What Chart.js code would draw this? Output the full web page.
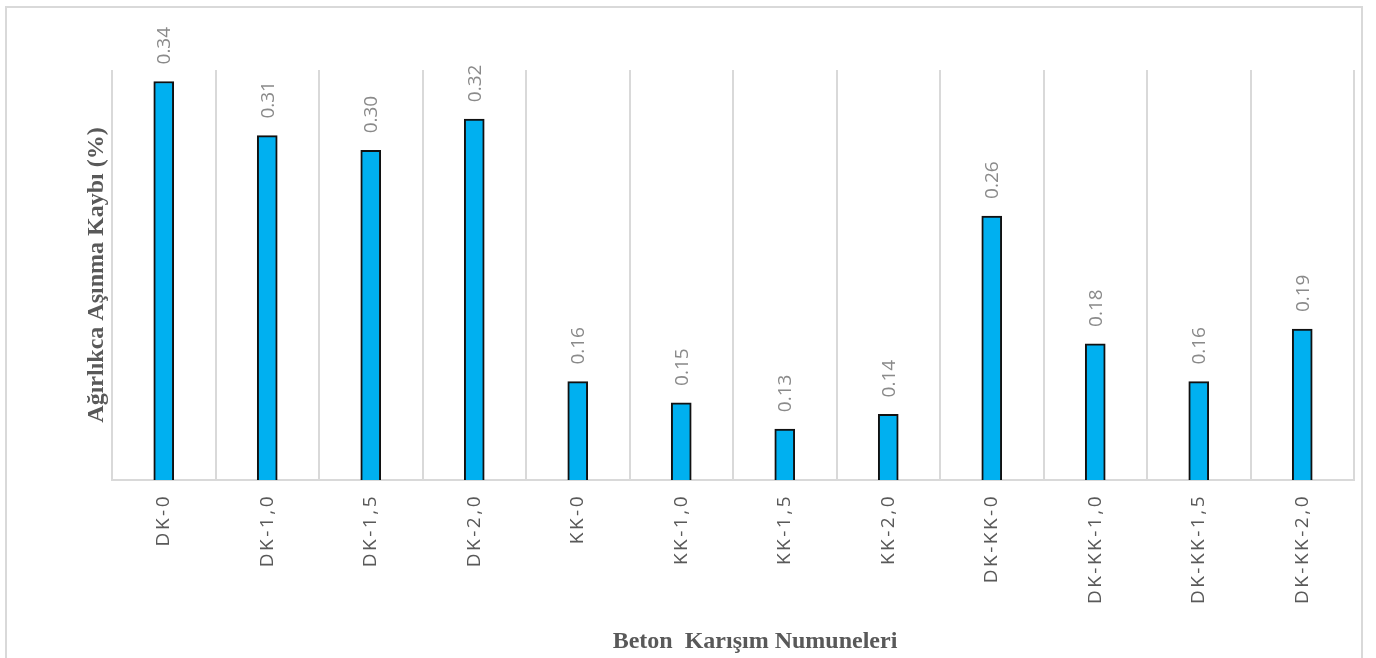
<!DOCTYPE html>
<html lang="tr">
<head>
<meta charset="utf-8">
<title>Ağırlıkca Aşınma Kaybı</title>
<script src="https://cdn.jsdelivr.net/npm/chart.js@4/dist/chart.umd.min.js"></script>
<style>
  html, body { margin: 0; padding: 0; background: #ffffff; overflow: hidden; }
  #frame {
    position: absolute; left: 5px; top: 6px; width: 1358px; height: 720px;
    border: 2px solid #d9d9d9; box-sizing: border-box;
  }
  #wrap { position: absolute; left: 0; top: 0; width: 1376px; height: 658px; }
</style>
</head>
<body>
<div id="frame"></div>
<div id="wrap"><canvas id="chart" width="1376" height="658"></canvas></div>
<script>
// Beton karışım numuneleri (categories)
const categories = [
  'DK-0', 'DK-1,0', 'DK-1,5', 'DK-2,0',
  'KK-0', 'KK-1,0', 'KK-1,5', 'KK-2,0',
  'DK-KK-0', 'DK-KK-1,0', 'DK-KK-1,5', 'DK-KK-2,0'
];
// Ağırlıkca aşınma kaybı (%)
const wearLoss = [
  0.343, 0.310, 0.301, 0.320,
  0.160, 0.147, 0.131, 0.140,
  0.261, 0.183, 0.160, 0.192
];
const yRange = [0.10, 0.35];
const xTitle = 'Beton  Karışım Numuneleri';
const yTitle = 'Ağırlıkca Aşınma Kaybı (%)';

// Spaced-out category labels on the x axis
const spacedTicks = {
  id: 'spacedTicks',
  afterLayout(chart) {
    const sc = chart.scales.x;
    if (!sc || sc._spacedWrapped) return;
    const orig = sc.drawLabels.bind(sc);
    sc.drawLabels = function (area) {
      const c = chart.ctx;
      const prev = c.letterSpacing;
      c.letterSpacing = '2.5px';
      orig(area);
      c.letterSpacing = prev || '0px';
    };
    sc._spacedWrapped = true;
  }
};

// Rotated value labels above each bar
const valueLabels = {
  id: 'valueLabels',
  afterDatasetsDraw(chart) {
    const ctx = chart.ctx;
    const meta = chart.getDatasetMeta(0);
    const data = chart.data.datasets[0].data;
    ctx.save();
    ctx.font = '19px "Open Sans", sans-serif';
    ctx.fillStyle = '#8a8a8a';
    ctx.textAlign = 'left';
    ctx.textBaseline = 'middle';
    meta.data.forEach((bar, i) => {
      ctx.save();
      ctx.translate(bar.x + 1, bar.y - 17);
      ctx.rotate(-Math.PI / 2);
      ctx.fillText(data[i].toFixed(2), 0, 0);
      ctx.restore();
    });
    ctx.restore();
  }
};

// Axis titles in bold serif
const axisTitles = {
  id: 'axisTitles',
  afterDraw(chart) {
    const ctx = chart.ctx;
    const a = chart.chartArea;
    ctx.save();
    ctx.font = 'bold 24px "Liberation Serif", "Times New Roman", serif';
    ctx.fillStyle = '#595959';
    ctx.textAlign = 'center';
    ctx.textBaseline = 'middle';
    ctx.save();
    ctx.translate(a.left - 15, (a.top + a.bottom) / 2);
    ctx.rotate(-Math.PI / 2);
    ctx.fillText(yTitle, 0, 0);
    ctx.restore();
    ctx.fillText(xTitle, (a.left + a.right) / 2 + 22, chart.height - 16);
    ctx.restore();
  }
};

new Chart(document.getElementById('chart'), {
  type: 'bar',
  data: {
    labels: categories,
    datasets: [{
      data: wearLoss,
      backgroundColor: '#00B0F0',
      borderColor: '#111111',
      borderWidth: 2,
      barThickness: 20,
      borderSkipped: 'start'
    }]
  },
  options: {
    responsive: false,
    animation: false,
    devicePixelRatio: 1,
    layout: { padding: { left: 112, right: 22, top: 70, bottom: 0 } },
    plugins: {
      legend: { display: false },
      tooltip: { enabled: false }
    },
    scales: {
      x: {
        grid: {
          offset: true,
          color: '#d9d9d9',
          lineWidth: 2,
          drawTicks: false
        },
        border: { display: true, color: '#d9d9d9', width: 2 },
        ticks: {
          color: '#595959',
          font: { family: '"Open Sans", sans-serif', size: 19 },
          minRotation: 90,
          maxRotation: 90,
          padding: 14,
          autoSkip: false
        },
        afterFit(scale) { scale.height = 178; }
      },
      y: {
        display: false,
        min: yRange[0],
        max: yRange[1]
      }
    }
  },
  plugins: [spacedTicks, valueLabels, axisTitles]
});
</script>
</body>
</html>
